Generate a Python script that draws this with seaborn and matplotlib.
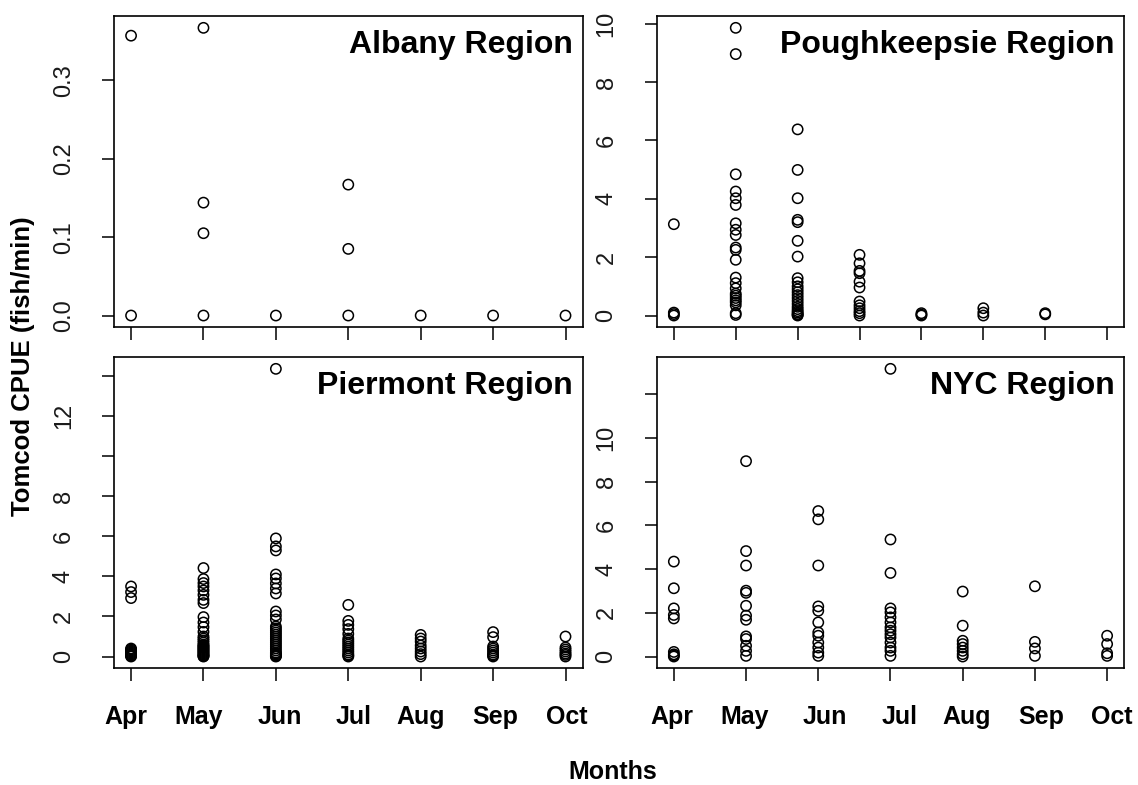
import numpy as np
import pandas as pd
import matplotlib
matplotlib.use("Agg")
import matplotlib.pyplot as plt
import seaborn as sns

# ---- data: tomcod catch per unit effort (fish/min) by sampling month ----
months = ["Apr", "May", "Jun", "Jul", "Aug", "Sep", "Oct"]

albany = [
    [0.357, 0.0],
    [0.367, 0.144, 0.105, 0.0],
    [0.0],
    [0.167, 0.085, 0.0],
    [0.0],
    [0.0],
    [0.0],
]

poughkeepsie = [
    [3.13, 0.1, 0.05, 0.0],
    [9.86, 8.96, 4.84, 4.25, 4.02, 3.79, 3.16, 2.94, 2.76, 2.33, 2.25, 1.91,
     1.30, 1.11, 0.93, 0.75, 0.68, 0.6, 0.52, 0.45, 0.35, 0.08, 0.02],
    [6.38, 4.99, 4.02, 3.28, 3.2, 2.56, 2.02, 1.28, 1.14, 1.0, 0.9, 0.8,
     0.7, 0.6, 0.5, 0.4, 0.3, 0.22, 0.15, 0.1, 0.05, 0.02, 0.0],
    [2.08, 1.79, 1.53, 1.45, 1.16, 0.96, 0.48, 0.35, 0.25, 0.15, 0.08, 0.0],
    [0.08, 0.03, 0.0],
    [0.25, 0.1, 0.0],
    [0.08, 0.04],
    [],
]

piermont = [
    [3.5, 3.22, 2.92, 0.4, 0.35, 0.3, 0.25, 0.2, 0.15, 0.1, 0.06, 0.03, 0.0],
    [4.42, 3.87, 3.67, 3.5, 3.3, 3.08, 2.83, 2.67, 1.97, 1.7, 1.47, 1.23,
     1.0, 0.9, 0.8, 0.7, 0.6, 0.55, 0.5, 0.45, 0.4, 0.35, 0.3, 0.25, 0.2,
     0.15, 0.1, 0.05, 0.02, 0.0],
    [14.37, 5.9, 5.5, 5.3, 4.1, 3.9, 3.65, 3.4, 3.15, 2.25, 2.05, 1.85,
     1.5, 1.4, 1.3, 1.2, 1.1, 1.0, 0.9, 0.8, 0.7, 0.6, 0.5, 0.4, 0.3, 0.2,
     0.15, 0.1, 0.05, 0.02, 0.0],
    [2.58, 1.78, 1.58, 1.37, 1.13, 0.9, 0.8, 0.7, 0.6, 0.5, 0.4, 0.3, 0.2,
     0.1, 0.05, 0.0],
    [1.08, 0.9, 0.75, 0.55, 0.4, 0.25, 0.12, 0.0],
    [1.22, 0.97, 0.5, 0.4, 0.3, 0.2, 0.1, 0.05, 0.0],
    [1.0, 0.45, 0.35, 0.25, 0.15, 0.08, 0.0],
]

nyc = [
    [4.34, 3.12, 2.2, 1.9, 1.74, 0.21, 0.1, 0.05, 0.0],
    [8.93, 4.82, 4.16, 3.01, 2.91, 2.32, 1.87, 1.68, 0.92, 0.8, 0.49, 0.26, 0.03],
    [6.65, 6.27, 4.16, 2.29, 2.09, 1.56, 1.1, 0.95, 0.64, 0.41, 0.18, 0.03],
    [13.15, 5.35, 3.82, 2.2, 2.02, 1.79, 1.56, 1.33, 1.18, 1.02, 0.87, 0.64,
     0.41, 0.26, 0.03],
    [2.97, 1.41, 0.72, 0.57, 0.41, 0.26, 0.11, 0.0],
    [3.21, 0.67, 0.37, 0.03],
    [0.95, 0.57, 0.15, 0.03],
]

albany_yticks = [0.0, 0.1, 0.2, 0.3]
albany_ylabels = ["0.0", "0.1", "0.2", "0.3"]
poughkeepsie_yticks = [0, 2, 4, 6, 8, 10]
poughkeepsie_ylabels = ["0", "2", "4", "6", "8", "10"]
piermont_yticks = [0, 2, 4, 6, 8, 10, 12, 14]
piermont_ylabels = ["0", "2", "4", "6", "8", "", "12", ""]
nyc_yticks = [0, 2, 4, 6, 8, 10, 12]
nyc_ylabels = ["0", "2", "4", "6", "8", "10", ""]


def to_long(groups):
    rows = [(i + 1, v) for i, vals in enumerate(groups) for v in vals]
    return pd.DataFrame(rows, columns=["month", "cpue"])


sns.set_style("ticks")
plt.rcParams["font.family"] = ["Liberation Sans", "DejaVu Sans"]
plt.rcParams["text.color"] = "black"

fig = plt.figure(figsize=(11.38, 7.85), dpi=100)

# panel rectangles in figure fractions
col_left = [0.0999, 0.5769]
col_width = [0.4123, 0.4112]
row_bottom = [0.5834, 0.1490]
row_height = 0.3958

panels = [
    ("Albany Region", albany, albany_yticks, albany_ylabels, 0, 0),
    ("Poughkeepsie Region", poughkeepsie, poughkeepsie_yticks, poughkeepsie_ylabels, 0, 1),
    ("Piermont Region", piermont, piermont_yticks, piermont_ylabels, 1, 0),
    ("NYC Region", nyc, nyc_yticks, nyc_ylabels, 1, 1),
]

for title, groups, yticks, ylabels, r, c in panels:
    ax = fig.add_axes([col_left[c], row_bottom[r], col_width[c], row_height])
    df = to_long(groups)
    sns.scatterplot(data=df, x="month", y="cpue", ax=ax, marker="o", s=55,
                    facecolors="none", edgecolor="black", linewidth=1.1,
                    legend=False, zorder=3)
    n = len(groups)
    pad_x = 0.04 * (n - 1)
    ax.set_xlim(1 - pad_x, n + pad_x)
    lo, hi = df["cpue"].min(), df["cpue"].max()
    pad_y = 0.04 * (hi - lo)
    ax.set_ylim(lo - pad_y, hi + pad_y)

    ax.set_xticks(range(1, n + 1))
    ax.set_xticklabels([])
    ax.set_yticks(yticks)
    ax.set_yticklabels(ylabels, rotation=90, va="center")
    ax.tick_params(axis="both", which="major", direction="out", length=9,
                   width=1.1, color="black", labelsize=17,
                   labelcolor="#1a1a1a", pad=19,
                   bottom=True, left=True, top=False, right=False)
    ax.set_xlabel("")
    ax.set_ylabel("")
    for s in ax.spines.values():
        s.set_visible(True)
        s.set_linewidth(1.2)
        s.set_color("black")

    ax.text(1 - 10 / 469, 1 - 37 / 311, title, transform=ax.transAxes,
            ha="right", va="baseline", fontsize=23, fontweight="bold",
            color="black")

# shared month labels beneath each column
month_x_left = [126.3, 199.0, 279.4, 354.0, 421.0, 495.6, 566.4]
col_shift = 545.5
W, H = 1138.0, 785.0
for shift in (0.0, col_shift):
    for name, px in zip(months, month_x_left):
        fig.text((px + shift) / W, 1 - 717 / H, name, ha="center", va="center",
                 fontsize=18, fontweight="bold", color="black")

fig.text(613 / W, 1 - 772 / H, "Months", ha="center", va="center",
         fontsize=18, fontweight="bold", color="black")
fig.text(23 / W, 1 - 366 / H, "Tomcod CPUE (fish/min)", rotation=90,
         ha="center", va="center", fontsize=18.5, fontweight="bold",
         color="black")

fig.savefig("out.png", dpi=100, facecolor="white")
